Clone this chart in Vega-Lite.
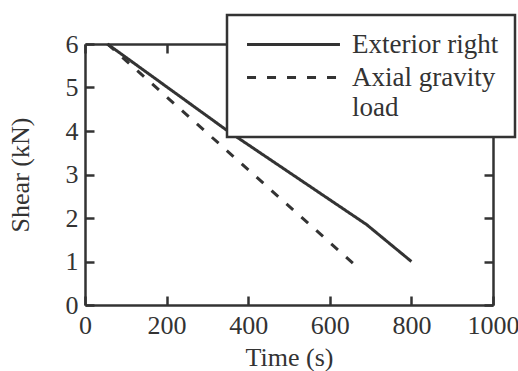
{
  "$schema": "https://vega.github.io/schema/vega-lite/v6.json",
  "width": 408,
  "height": 261,
  "autosize": {"type": "none"},
  "padding": {"left": 85, "top": 44, "right": 25, "bottom": 66},
  "background": "white",
  "config": {
    "view": {"stroke": null},
    "font": "Liberation Serif",
    "axis": {
      "grid": false,
      "domainColor": "#333",
      "domainWidth": 2.5,
      "tickColor": "#333",
      "tickWidth": 2.5,
      "tickSize": -9,
      "labelFont": "Liberation Serif",
      "labelFontSize": 26,
      "labelColor": "#333",
      "labelFlush": false,
      "labelOverlap": false,
      "labelBound": false,
      "titleFont": "Liberation Serif",
      "titleFontSize": 26,
      "titleFontWeight": "normal",
      "titleColor": "#333"
    },
    "legend": {"strokeWidth": 2.5}
  },
  "data": {
    "values": [
      {"series": "Exterior right", "time": 55, "shear": 6.0},
      {"series": "Exterior right", "time": 350, "shear": 4.0},
      {"series": "Exterior right", "time": 690, "shear": 1.85},
      {"series": "Exterior right", "time": 800, "shear": 1.0},
      {"series": "Axial gravity load", "time": 55, "shear": 6.0},
      {"series": "Axial gravity load", "time": 658, "shear": 0.95}
    ]
  },
  "layer": [
    {
      "mark": {"type": "line", "strokeWidth": 3, "color": "#333"},
      "encoding": {
        "x": {
          "field": "time",
          "type": "quantitative",
          "scale": {"domain": [0, 1000], "nice": false},
          "axis": {
            "orient": "bottom",
            "title": "Time (s)",
            "format": "d",
            "values": [0, 200, 400, 600, 800, 1000],
            "labelPadding": 16,
            "titlePadding": 6
          }
        },
        "y": {
          "field": "shear",
          "type": "quantitative",
          "scale": {"domain": [0, 6], "nice": false},
          "axis": {
            "orient": "left",
            "title": "Shear (kN)",
            "format": "d",
            "values": [0, 1, 2, 3, 4, 5, 6],
            "labelPadding": 16,
            "titlePadding": 32
          }
        },
        "strokeDash": {
          "field": "series",
          "type": "nominal",
          "scale": {
            "domain": ["Exterior right", "Axial gravity load"],
            "range": [[1, 0], [9, 11]]
          },
          "legend": {
            "title": null,
            "orient": "none",
            "legendX": 142,
            "legendY": -29,
            "padding": 16,
            "strokeColor": "#333",
            "fillColor": "white",
            "symbolType": "M-4,0H4",
            "symbolSize": 540,
            "symbolStrokeWidth": 3,
            "symbolStrokeColor": "#333",
            "symbolOffset": 37,
            "labelOffset": 45,
            "labelFont": "Liberation Serif",
            "labelFontSize": 27,
            "labelColor": "#333",
            "labelLimit": 400,
            "rowPadding": 5,
            "labelExpr": "datum.label == 'Axial gravity load' ? ['Axial gravity', 'load'] : datum.label",
            "encode": {"labels": {"update": {"lineHeight": {"value": 30}}}}
          }
        }
      }
    },
    {
      "mark": {"type": "point", "opacity": 0},
      "encoding": {
        "x": {
          "field": "time",
          "type": "quantitative",
          "scale": {"domain": [0, 1000], "nice": false},
          "axis": {"orient": "top", "title": null, "labels": false, "values": [0, 200, 400, 600, 800, 1000]}
        },
        "y": {
          "field": "shear",
          "type": "quantitative",
          "scale": {"domain": [0, 6], "nice": false},
          "axis": {"orient": "right", "title": null, "labels": false, "values": [0, 1, 2, 3, 4, 5, 6]}
        }
      }
    }
  ],
  "resolve": {"axis": {"x": "independent", "y": "independent"}}
}
